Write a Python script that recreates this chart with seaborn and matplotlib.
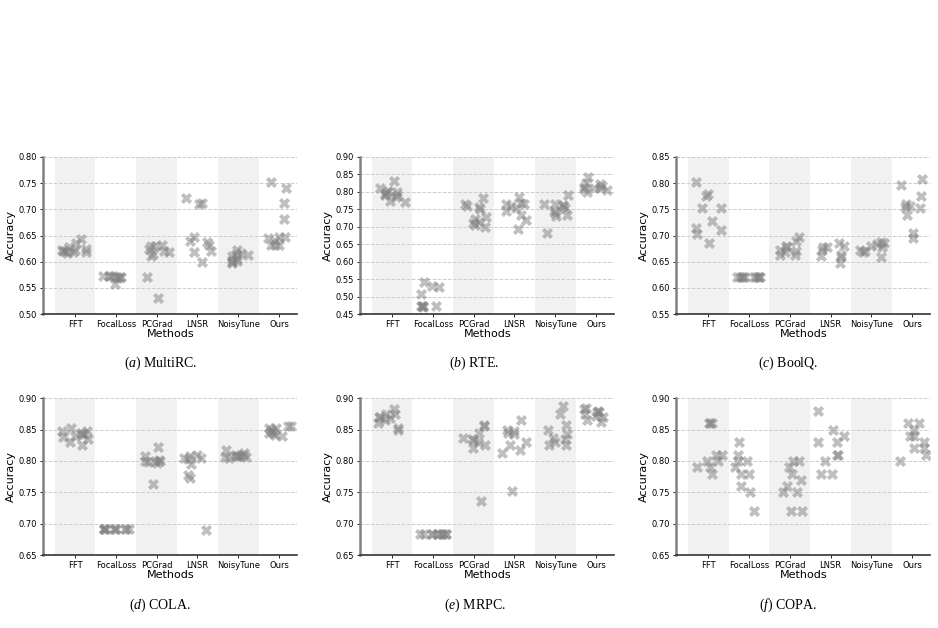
import numpy as np
import pandas as pd
import matplotlib
matplotlib.use("Agg")
import matplotlib.pyplot as plt
import seaborn as sns

methods = ["FFT", "FocalLoss", "PCGrad", "LNSR", "NoisyTune", "Ours"]

multirc = {
    "FFT": [0.635, 0.643, 0.628, 0.622, 0.625, 0.618, 0.620, 0.617, 0.621, 0.619, 0.622],
    "FocalLoss": [0.557, 0.570, 0.572, 0.570, 0.568, 0.572, 0.570, 0.572, 0.572],
    "PCGrad": [0.610, 0.632, 0.630, 0.570, 0.531, 0.620, 0.630, 0.625, 0.615, 0.618],
    "LNSR": [0.620, 0.600, 0.632, 0.637, 0.648, 0.722, 0.713, 0.711, 0.618, 0.640],
    "NoisyTune": [0.615, 0.622, 0.603, 0.600, 0.605, 0.613, 0.617, 0.597, 0.610, 0.602],
    "Ours": [0.752, 0.632, 0.648, 0.645, 0.632, 0.640, 0.647, 0.741, 0.713, 0.681, 0.632],
}
rte = {
    "FFT": [0.790, 0.803, 0.832, 0.800, 0.773, 0.810, 0.795, 0.770, 0.790, 0.800, 0.785],
    "FocalLoss": [0.528, 0.530, 0.472, 0.472, 0.508, 0.542, 0.472, 0.472, 0.470],
    "PCGrad": [0.722, 0.765, 0.728, 0.715, 0.705, 0.758, 0.760, 0.698, 0.783, 0.750, 0.710],
    "LNSR": [0.765, 0.768, 0.785, 0.718, 0.693, 0.760, 0.755, 0.765, 0.745, 0.733],
    "NoisyTune": [0.762, 0.790, 0.753, 0.730, 0.765, 0.740, 0.735, 0.760, 0.765, 0.745, 0.682],
    "Ours": [0.800, 0.808, 0.805, 0.823, 0.825, 0.812, 0.815, 0.843, 0.818, 0.810],
}
boolq = {
    "FFT": [0.780, 0.752, 0.727, 0.710, 0.775, 0.803, 0.714, 0.703, 0.752, 0.685],
    "FocalLoss": [0.621, 0.621, 0.621, 0.621, 0.621, 0.621, 0.621, 0.621, 0.621, 0.621],
    "PCGrad": [0.662, 0.662, 0.698, 0.690, 0.680, 0.670, 0.673, 0.668, 0.678],
    "LNSR": [0.658, 0.660, 0.662, 0.685, 0.680, 0.678, 0.673, 0.678, 0.647],
    "NoisyTune": [0.685, 0.683, 0.680, 0.670, 0.688, 0.678, 0.672, 0.668, 0.658],
    "Ours": [0.808, 0.740, 0.760, 0.757, 0.695, 0.797, 0.776, 0.705, 0.753, 0.755],
}
cola = {
    "FFT": [0.835, 0.843, 0.853, 0.847, 0.845, 0.843, 0.847, 0.838, 0.825, 0.830, 0.840],
    "FocalLoss": [0.691, 0.691, 0.691, 0.691, 0.691, 0.691, 0.691, 0.691, 0.691, 0.691],
    "PCGrad": [0.808, 0.822, 0.800, 0.798, 0.800, 0.797, 0.802, 0.800, 0.763],
    "LNSR": [0.805, 0.803, 0.795, 0.690, 0.778, 0.773, 0.808, 0.810, 0.805],
    "NoisyTune": [0.806, 0.808, 0.805, 0.810, 0.806, 0.808, 0.812, 0.810, 0.818, 0.808],
    "Ours": [0.842, 0.840, 0.845, 0.850, 0.855, 0.848, 0.852, 0.856, 0.845, 0.852],
}
mrpc = {
    "FFT": [0.853, 0.882, 0.875, 0.870, 0.868, 0.860, 0.865, 0.850, 0.870, 0.875],
    "FocalLoss": [0.684, 0.684, 0.684, 0.684, 0.684, 0.684, 0.684, 0.684, 0.684, 0.684],
    "PCGrad": [0.855, 0.845, 0.835, 0.830, 0.820, 0.737, 0.837, 0.833, 0.858, 0.826],
    "LNSR": [0.850, 0.845, 0.830, 0.825, 0.812, 0.818, 0.752, 0.865, 0.848, 0.843],
    "NoisyTune": [0.837, 0.826, 0.825, 0.875, 0.888, 0.858, 0.850, 0.843, 0.835, 0.830],
    "Ours": [0.880, 0.875, 0.870, 0.865, 0.878, 0.885, 0.882, 0.878, 0.872, 0.862],
}
copa = {
    "FFT": [0.81, 0.81, 0.79, 0.78, 0.86, 0.86, 0.86, 0.79, 0.80, 0.80],
    "FocalLoss": [0.75, 0.72, 0.81, 0.80, 0.80, 0.83, 0.79, 0.78, 0.76, 0.78],
    "PCGrad": [0.78, 0.80, 0.79, 0.77, 0.76, 0.75, 0.72, 0.80, 0.75, 0.72],
    "LNSR": [0.81, 0.78, 0.78, 0.84, 0.88, 0.80, 0.83, 0.83, 0.81, 0.85],
    "NoisyTune": [],
    "Ours": [0.86, 0.85, 0.82, 0.86, 0.82, 0.80, 0.84, 0.84, 0.81, 0.83],
}

datasets = [multirc, rte, boolq, cola, mrpc, copa]
captions = [("a", "MultiRC."), ("b", "RTE."), ("c", "BoolQ."),
            ("d", "COLA."), ("e", "MRPC."), ("f", "COPA.")]
yranges = [(0.50, 0.80), (0.45, 0.90), (0.55, 0.85),
           (0.65, 0.90), (0.65, 0.90), (0.65, 0.90)]

plt.rcParams["font.family"] = ["DejaVu Sans"]
plt.rcParams["mathtext.fontset"] = "custom"
plt.rcParams["mathtext.rm"] = "Liberation Serif"
plt.rcParams["mathtext.it"] = "Liberation Serif:italic"

fig = plt.figure(figsize=(9.38, 6.28), dpi=100)

lefts = [0.046, 0.384, 0.721]
width = 0.271
bottoms = [0.500, 0.116]
height = 0.250
cap_y = [0.422, 0.036]
cap_x = [0.171, 0.506, 0.840]

np.random.seed(3)
for i, (data, cap, yr) in enumerate(zip(datasets, captions, yranges)):
    r, c = divmod(i, 3)
    ax = fig.add_axes([lefts[c], bottoms[r], width, height])
    rows = [(m, v) for m in methods for v in data[m]]
    df = pd.DataFrame(rows, columns=["Method", "Accuracy"])
    for k in range(0, len(methods), 2):
        ax.axvspan(k - 0.5, k + 0.5, color="#f1f1f1", zorder=0, lw=0)
    sns.stripplot(data=df, x="Method", y="Accuracy", order=methods, ax=ax,
                  marker="X", color="#808080", alpha=0.5, size=8,
                  jitter=0.34, linewidth=0, zorder=3)
    ax.set_xlim(-0.78, 5.45)
    ax.set_ylim(*yr)
    ax.set_yticks(np.round(np.arange(yr[0], yr[1] + 1e-9, 0.05), 2))
    ax.yaxis.set_major_formatter(matplotlib.ticker.FormatStrFormatter("%.2f"))
    ax.grid(axis="y", linestyle="--", color="#cccccc", linewidth=0.7, zorder=1)
    ax.set_axisbelow(True)
    ax.tick_params(axis="both", labelsize=6, length=2.5, width=0.6, pad=2)
    ax.set_xlabel("Methods", fontsize=8, labelpad=0)
    ax.set_ylabel("Accuracy", fontsize=8, labelpad=2)
    for s in ["top", "right"]:
        ax.spines[s].set_visible(False)
    ax.spines["left"].set_color("#808080")
    ax.spines["left"].set_linewidth(1.8)
    ax.spines["bottom"].set_color("#333333")
    ax.spines["bottom"].set_linewidth(1.2)
    fig.text(cap_x[c], cap_y[r], r"$\mathit{(" + cap[0] + ")}$ " + cap[1],
             ha="center", va="center", fontsize=10,
             family="Liberation Serif")

fig.savefig("out.png", dpi=100)
